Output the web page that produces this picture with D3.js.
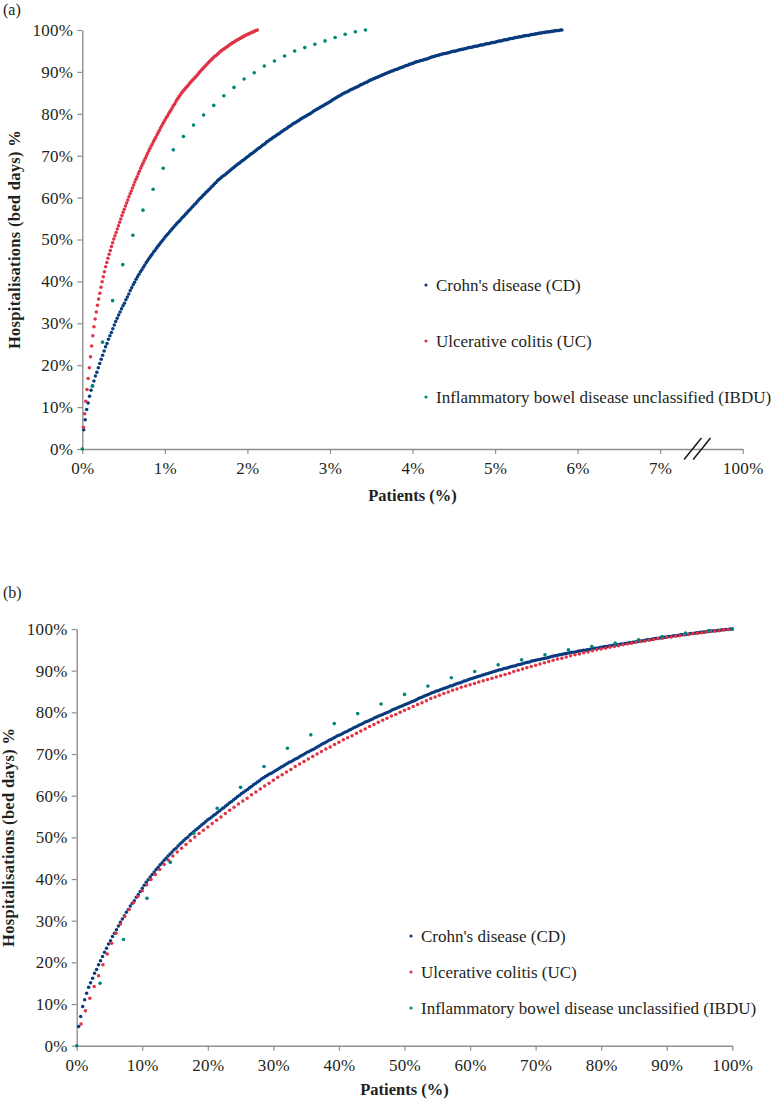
<!DOCTYPE html>
<html><head><meta charset="utf-8">
<script src="https://cdn.jsdelivr.net/npm/d3@7"></script>
<style>
body{margin:0;background:#fff;}
svg{display:block;font-family:"Liberation Serif","Times New Roman",serif;}
</style></head>
<body><svg id="c" width="780" height="1099"></svg>
<script>
// Cumulative share of hospital bed days (%) per patient, patients sorted by bed days (descending)
const cdValues = [
4.6,7.0,9.4,11.0,12.6,14.0,15.1,16.2,17.4,18.3,
19.4,20.4,21.4,22.4,23.4,24.4,25.2,26.2,27.0,27.8,
28.7,29.6,30.4,31.2,32.0,32.7,33.5,34.2,34.8,35.6,
36.3,37.0,37.8,38.5,39.2,39.8,40.5,41.1,41.7,42.3,
42.8,43.4,43.9,44.5,45.0,45.5,46.0,46.5,47.0,47.4,
47.9,48.4,48.8,49.3,49.7,50.1,50.6,51.0,51.4,51.8,
52.2,52.6,53.0,53.4,53.8,54.2,54.5,54.9,55.3,55.6,
56.0,56.4,56.8,57.1,57.5,57.9,58.3,58.6,59.0,59.4,
59.8,60.1,60.5,60.8,61.2,61.5,61.9,62.2,62.6,62.9,
63.3,63.6,64.0,64.3,64.6,64.9,65.2,65.4,65.7,66.0,
66.3,66.6,66.9,67.1,67.4,67.7,68.0,68.2,68.5,68.8,
69.0,69.3,69.6,69.8,70.1,70.4,70.6,70.9,71.1,71.4,
71.7,71.9,72.2,72.5,72.7,73.0,73.3,73.5,73.8,74.0,
74.3,74.5,74.7,75.0,75.2,75.4,75.7,75.9,76.2,76.4,
76.6,76.9,77.1,77.3,77.6,77.8,78.0,78.2,78.4,78.7,
78.9,79.1,79.3,79.5,79.7,79.9,80.1,80.3,80.6,80.8,
81.0,81.2,81.4,81.6,81.8,82.0,82.2,82.4,82.6,82.8,
83.0,83.3,83.5,83.7,83.9,84.1,84.3,84.5,84.7,84.9,
85.1,85.2,85.4,85.6,85.8,85.9,86.1,86.3,86.4,86.6,
86.8,87.0,87.1,87.3,87.5,87.6,87.8,88.0,88.1,88.3,
88.4,88.6,88.7,88.9,89.0,89.2,89.3,89.5,89.6,89.8,
89.9,90.1,90.2,90.3,90.5,90.6,90.7,90.9,91.0,91.1,
91.2,91.4,91.5,91.6,91.8,91.9,92.0,92.1,92.3,92.4,
92.5,92.6,92.7,92.8,92.9,93.0,93.1,93.2,93.4,93.5,
93.6,93.7,93.8,93.9,94.0,94.1,94.2,94.3,94.4,94.4,
94.5,94.6,94.7,94.8,94.9,94.9,95.0,95.1,95.2,95.3,
95.4,95.4,95.5,95.6,95.7,95.8,95.8,95.9,96.0,96.1,
96.1,96.2,96.3,96.4,96.4,96.5,96.6,96.7,96.7,96.8,
96.9,97.0,97.0,97.1,97.2,97.3,97.4,97.4,97.5,97.6,
97.7,97.7,97.8,97.9,98.0,98.0,98.1,98.2,98.2,98.3,
98.4,98.4,98.5,98.6,98.6,98.7,98.7,98.8,98.9,98.9,
99.0,99.1,99.1,99.2,99.3,99.3,99.4,99.4,99.5,99.5,
99.6,99.6,99.7,99.7,99.8,99.8,99.9,99.9,100.0,100.0
];
const ucValues = [
5.2,8.4,11.4,14.2,16.8,19.4,22.0,24.6,27.0,29.2,
31.0,32.7,34.3,35.8,37.2,38.6,39.9,41.1,42.3,43.5,
44.5,45.5,46.5,47.4,48.3,49.2,50.1,50.9,51.7,52.5,
53.3,54.1,54.9,55.7,56.5,57.2,58.0,58.7,59.4,60.2,
60.9,61.6,62.3,63.0,63.7,64.4,65.0,65.7,66.3,67.0,
67.6,68.2,68.8,69.4,70.0,70.6,71.2,71.7,72.3,72.8,
73.4,73.9,74.4,75.0,75.5,76.0,76.6,77.1,77.6,78.1,
78.6,79.1,79.5,80.0,80.5,80.9,81.4,81.9,82.3,82.8,
83.3,83.7,84.1,84.5,84.9,85.3,85.6,86.0,86.3,86.6,
86.9,87.3,87.6,87.9,88.2,88.5,88.8,89.1,89.4,89.8,
90.1,90.4,90.7,91.0,91.3,91.6,91.9,92.2,92.5,92.8,
93.0,93.3,93.6,93.8,94.0,94.3,94.5,94.8,95.0,95.2,
95.4,95.6,95.8,96.0,96.2,96.4,96.6,96.8,97.0,97.1,
97.3,97.5,97.7,97.8,98.0,98.1,98.3,98.4,98.6,98.7,
98.9,99.0,99.1,99.3,99.4,99.5,99.6,99.8,99.9,100.0
];
// IBDU includes the origin point
const ibduValues = [0,15.0,25.5,35.4,44.0,51.0,57.0,62.0,67.0,71.4,74.6,77.3,79.7,82.0,84.3,86.3,88.3,89.8,91.4,92.6,93.8,95.0,95.8,96.6,97.4,98.2,99.0,99.6,100.0];

// share (%) of all patients that the hospitalised patients represent (panel a)
const topShare = {CD: 5.81, UC: 2.12, IBDU: 3.43};

const seriesNames = ["Crohn's disease (CD)", "Ulcerative colitis (UC)", "Inflammatory bowel disease unclassified (IBDU)"];
const seriesKeys = ["CD","UC","IBDU"];
const seriesColors = ["#083b7e","#e03346","#00857a"];

const topXTickValues = [0,1,2,3,4,5,6,7,8];
const topXTickLabels = ["0%","1%","2%","3%","4%","5%","6%","7%","100%"];
const yTickValues = [0,10,20,30,40,50,60,70,80,90,100];
const bottomXTickValues = [0,10,20,30,40,50,60,70,80,90,100];

const series = [
  {key:"CD", values:cdValues, first:1},
  {key:"UC", values:ucValues, first:1},
  {key:"IBDU", values:ibduValues, first:0}
].map((s,i)=>{
  const n = s.values.length - 1 + s.first; // number of patients
  s.color = seriesColors[i];
  s.name = seriesNames[i];
  s.points = s.values.map((v,k)=>({p:(k+s.first)/n*100, v}));
  return s;
});

const svg = d3.select("#c");
const FONT = 17;
const axisColor = "#8f8f8f";
const textColor = "#231f20";

function styleAxis(g){
  g.select(".domain").attr("stroke",axisColor).attr("stroke-width",1.4);
  g.selectAll(".tick line").attr("stroke",axisColor).attr("stroke-width",1.2);
  g.selectAll(".tick text").attr("fill",textColor).attr("font-size",FONT)
    .attr("font-family","'Liberation Serif','Times New Roman',serif").attr("letter-spacing","0.3px");
}

function panel(cfg){
  const g = svg.append("g");
  const y = d3.scaleLinear().domain([0,100]).range([cfg.y0,cfg.y1]);
  const x = cfg.x;
  // axes
  const ya = g.append("g").attr("transform",`translate(${cfg.xLeft},0)`)
    .call(d3.axisLeft(y).tickValues(yTickValues).tickFormat(d=>d+"%").tickSize(5).tickSizeOuter(0).tickPadding(4));
  styleAxis(ya);
  const xa = g.append("g").attr("transform",`translate(0,${cfg.y0})`)
    .call(d3.axisBottom(x).tickValues(cfg.xTicks).tickFormat(cfg.xFormat).tickSize(5).tickSizeOuter(0).tickPadding(8));
  styleAxis(xa);
  // data
  series.forEach(s=>{
    g.append("g").selectAll("circle").data(s.points).join("circle")
      .attr("cx",d=>x(cfg.xVal(s,d.p))).attr("cy",d=>y(d.v))
      .attr("r", s.key==="IBDU"?1.8:1.75).attr("fill",s.color);
  });
  // axis titles
  g.append("text").attr("x",(cfg.xLeft+cfg.xRight)/2).attr("y",cfg.xTitleY)
    .attr("text-anchor","middle").attr("font-weight","bold").attr("font-size",16.5)
    .attr("fill",textColor).text("Patients (%)");
  g.append("text").attr("transform",`translate(${cfg.yTitleX},${(cfg.y0+cfg.y1)/2}) rotate(-90)`)
    .attr("text-anchor","middle").attr("font-weight","bold").attr("font-size",16.5)
    .attr("letter-spacing","0.3px").attr("fill",textColor).text("Hospitalisations (bed days) %");
  g.append("text").attr("x",3).attr("y",cfg.labelY).attr("font-size",16).attr("fill",textColor).text(cfg.label);
  // legend
  series.forEach((s,i)=>{
    const ly = cfg.legY + i*cfg.legStep;
    g.append("circle").attr("cx",cfg.legX).attr("cy",ly).attr("r",1.6).attr("fill",s.color);
    g.append("text").attr("x",cfg.legX+10).attr("y",ly+6).attr("font-size",FONT)
      .attr("fill",textColor).text(s.name);
  });
  return {g,x,y};
}

// Panel (a)
const xTop = d3.scaleLinear().domain([0,8]).range([82.3,742.7]);
const A = panel({
  x:xTop, xLeft:82.3, xRight:742.7, y0:449, y1:30,
  xTicks:topXTickValues, xFormat:d=>topXTickLabels[d],
  xVal:(s,p)=>p/100*topShare[s.key],
  xTitleY:501, yTitleX:20, label:"(a)", labelY:15,
  legX:426, legY:285, legStep:56
});
// axis break marks
[[7.29,7.50],[7.40,7.61]].forEach(([a,b])=>{
  A.g.append("line").attr("x1",xTop(a)).attr("y1",459.5).attr("x2",xTop(b)).attr("y2",438)
    .attr("stroke","#111").attr("stroke-width",1.4);
});

// Panel (b)
const xBot = d3.scaleLinear().domain([0,100]).range([76.7,732.3]);
panel({
  x:xBot, xLeft:76.7, xRight:732.3, y0:1045.7, y1:629,
  xTicks:bottomXTickValues, xFormat:d=>d+"%",
  xVal:(s,p)=>p,
  xTitleY:1095, yTitleX:14, label:"(b)", labelY:598,
  legX:411, legY:936, legStep:36
});
</script></body></html>
